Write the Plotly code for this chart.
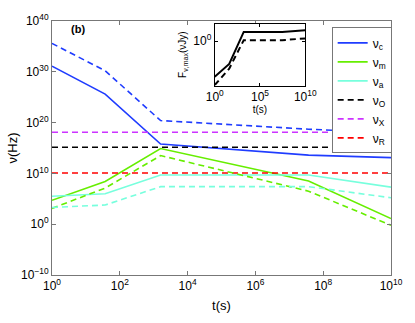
import plotly.graph_objects as go

# time grid (s)
t = [1e0, 3.7e1, 1.6e3, 3.7e7, 1e10]
t_const = [1e0, 1e10]

nu_c_solid = [1.3e31, 4e25, 6e15, 4e13, 1.3e13]
nu_c_dash = [4e35, 1.6e30, 2.5e20, 5e18, 1e18]
nu_m_solid = [5e4, 2.5e8, 8e14, 3.2e8, 1.3e1]
nu_m_dash = [1.3e3, 1.3e7, 3.2e13, 3.2e6, 6e-1]
nu_a_solid = [3.2e5, 1e6, 5e9, 5e9, 2e7]
nu_a_dash = [2e3, 6e3, 2.5e7, 2.5e7, 1.6e5]
nu_O = [1.4e15, 1.4e15]
nu_X = [1.3e18, 1.3e18]
nu_R = [1.2e10, 1.2e10]

# inset
t_in = [1e0, 4e1, 1.6e3, 2.8e7, 1e10]
F_solid = [4.7e-3, 3.2e-2, 4e0, 4e0, 5.2e0]
F_dash = [1.35e-3, 1.6e-2, 1.15e0, 1.15e0, 1.5e0]

xticks = [1e0, 1e2, 1e4, 1e6, 1e8, 1e10]
xtext = ["10<sup>0</sup>", "10<sup>2</sup>", "10<sup>4</sup>", "10<sup>6</sup>", "10<sup>8</sup>", "10<sup>10</sup>"]
yticks = [1e-10, 1e0, 1e10, 1e20, 1e30, 1e40]
ytext = ["10<sup>−10</sup>", "10<sup>0</sup>", "10<sup>10</sup>", "10<sup>20</sup>", "10<sup>30</sup>", "10<sup>40</sup>"]

BLUE = "#1f3cff"
GREEN = "#66ee00"
CYAN = "#77ffdd"
MAG = "#cc33ff"
RED = "#ff0000"

fig = go.Figure()
lw = 1.6
dash = "6px,4px"

fig.add_trace(go.Scatter(x=t, y=nu_c_solid, mode="lines", line=dict(color=BLUE, width=lw), name="ν<sub>c</sub>"))
fig.add_trace(go.Scatter(x=t, y=nu_m_solid, mode="lines", line=dict(color=GREEN, width=lw), name="ν<sub>m</sub>"))
fig.add_trace(go.Scatter(x=t, y=nu_a_solid, mode="lines", line=dict(color=CYAN, width=lw), name="ν<sub>a</sub>"))
fig.add_trace(go.Scatter(x=t_const, y=nu_O, mode="lines", line=dict(color="black", width=lw, dash=dash), name="ν<sub>O</sub>"))
fig.add_trace(go.Scatter(x=t_const, y=nu_X, mode="lines", line=dict(color=MAG, width=lw, dash=dash), name="ν<sub>X</sub>"))
fig.add_trace(go.Scatter(x=t_const, y=nu_R, mode="lines", line=dict(color=RED, width=lw, dash=dash), name="ν<sub>R</sub>"))
fig.add_trace(go.Scatter(x=t, y=nu_c_dash, mode="lines", line=dict(color=BLUE, width=lw, dash=dash), showlegend=False))
fig.add_trace(go.Scatter(x=t, y=nu_m_dash, mode="lines", line=dict(color=GREEN, width=lw, dash=dash), showlegend=False))
fig.add_trace(go.Scatter(x=t, y=nu_a_dash, mode="lines", line=dict(color=CYAN, width=lw, dash=dash), showlegend=False))

fig.add_trace(go.Scatter(x=t_in, y=F_solid, mode="lines", line=dict(color="black", width=2), showlegend=False, xaxis="x2", yaxis="y2"))
fig.add_trace(go.Scatter(x=t_in, y=F_dash, mode="lines", line=dict(color="black", width=2, dash=dash), showlegend=False, xaxis="x2", yaxis="y2"))

font = dict(family="Liberation Sans, Arial, sans-serif", size=12, color="black")
axcol = "#777777"

fig.update_layout(
    width=415, height=323,
    margin=dict(l=48, r=15, t=13, b=34),
    paper_bgcolor="white", plot_bgcolor="white",
    font=font,
    showlegend=True,
    legend=dict(x=0.825, y=0.975, xanchor="left", yanchor="top",
                bordercolor=axcol, borderwidth=1, bgcolor="white",
                font=dict(family="Liberation Sans, Arial, sans-serif", size=12),
                itemwidth=30, tracegroupgap=0),
    xaxis=dict(type="log", range=[0, 10], tickvals=xticks, ticktext=xtext,
               ticks="inside", ticklen=4, tickcolor=axcol, showline=True, linecolor=axcol, linewidth=1,
               mirror="allticks", showgrid=False, zeroline=False,
               title=dict(text="t(s)", standoff=8, font=dict(size=13))),
    yaxis=dict(type="log", range=[-10, 40], tickvals=yticks, ticktext=ytext,
               ticks="inside", ticklen=4, tickcolor=axcol, showline=True, linecolor=axcol, linewidth=1,
               mirror="allticks", showgrid=False, zeroline=False,
               title=dict(text="ν(Hz)", standoff=0, font=dict(size=13))),
    xaxis2=dict(type="log", range=[0, 10], domain=[0.48, 0.747], anchor="y2",
                tickvals=[1e0, 1e5, 1e10], ticktext=["10<sup>0</sup>", "10<sup>5</sup>", "10<sup>10</sup>"],
                ticks="inside", ticklen=3, tickcolor="black", showline=True, linecolor="black", linewidth=1,
                mirror="allticks", showgrid=False, zeroline=False, tickfont=dict(size=12),
                title=dict(text="t(s)", standoff=0, font=dict(size=10))),
    yaxis2=dict(type="log", range=[-2.9, 1.13], domain=[0.746, 0.989], anchor="x2",
                tickvals=[1e0], ticktext=["10<sup>0</sup>"],
                ticks="inside", ticklen=3, tickcolor="black", showline=True, linecolor="black", linewidth=1,
                mirror="allticks", showgrid=False, zeroline=False, tickfont=dict(size=12),
                title=dict(text="F<sub>ν,max</sub>(νJy)", standoff=4, font=dict(size=10))),
    annotations=[dict(text="<b>(b)</b>", x=0.077, y=0.967, xref="paper", yref="paper",
                      showarrow=False, xanchor="center", yanchor="middle", font=dict(size=11))],
)

fig.write_html("out.html", config={"displayModeBar": False},
               post_script="document.body.style.margin='0';")
